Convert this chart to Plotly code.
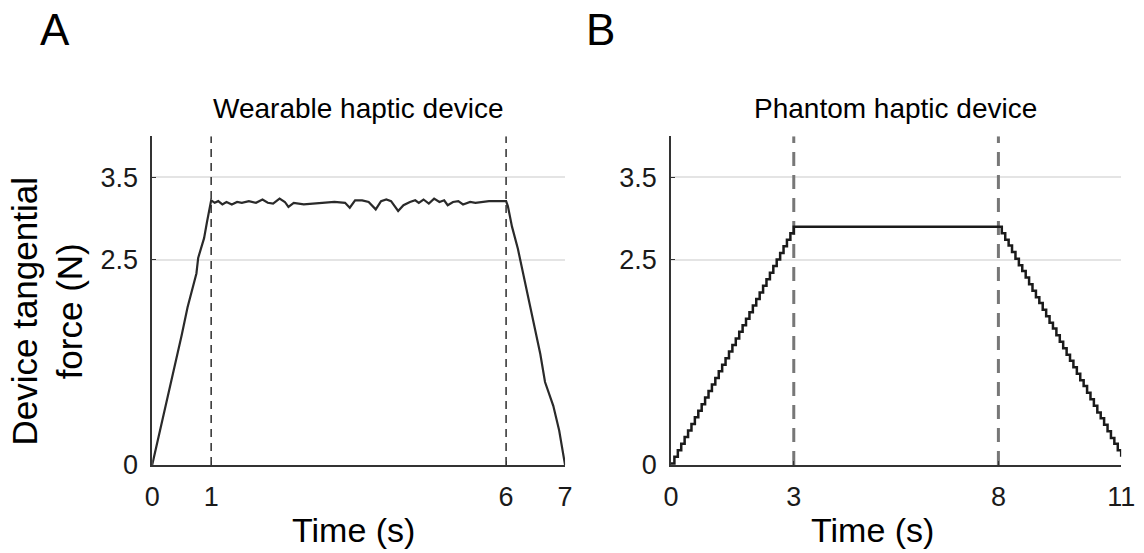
import plotly.graph_objects as go

# ---------------- data ----------------
# Panel A: wearable haptic device (time in s, force in N)
wear_up_t = [0.0, 0.1, 0.2, 0.3, 0.4, 0.5, 0.6, 0.65, 0.75, 0.78, 0.83, 0.88, 0.93, 0.97, 1.0]
wear_up_f = [0.0, 0.31, 0.63, 0.95, 1.27, 1.58, 1.92, 2.05, 2.33, 2.52, 2.64, 2.76, 2.96, 3.12, 3.22]

wear_plat_t = [1.06, 1.12, 1.19, 1.26, 1.35, 1.44, 1.52, 1.64, 1.76, 1.87, 1.96, 2.05, 2.16, 2.25,
               2.31, 2.40, 2.57, 2.74, 2.92, 3.09, 3.27, 3.35, 3.44, 3.56, 3.67, 3.79, 3.88, 3.97,
               4.05, 4.17, 4.26, 4.37, 4.46, 4.52, 4.60, 4.69, 4.78, 4.87, 4.95, 5.01, 5.10, 5.19,
               5.27, 5.39, 5.48, 5.59, 5.71, 5.83, 5.94, 6.0]
wear_plat_f = [3.19, 3.21, 3.17, 3.20, 3.17, 3.20, 3.19, 3.21, 3.19, 3.23, 3.19, 3.18, 3.24, 3.20,
               3.14, 3.19, 3.17, 3.18, 3.19, 3.20, 3.19, 3.13, 3.22, 3.22, 3.20, 3.11, 3.21, 3.23,
               3.21, 3.09, 3.16, 3.20, 3.22, 3.19, 3.23, 3.18, 3.24, 3.20, 3.22, 3.16, 3.20, 3.21,
               3.17, 3.20, 3.19, 3.20, 3.21, 3.21, 3.21, 3.21]

wear_down_t = [6.03, 6.1, 6.2, 6.33, 6.47, 6.58, 6.66, 6.8, 6.9, 6.96, 7.0]
wear_down_f = [3.15, 2.9, 2.63, 2.19, 1.74, 1.35, 1.01, 0.72, 0.42, 0.16, 0.0]

wear_events = [1, 6]
wear_xticks = [0, 1, 6, 7]

# Panel B: Phantom haptic device (stair-stepped ramps)
ph_up_t = [0.0, 0.083, 0.167, 0.25, 0.333, 0.417, 0.5, 0.583, 0.667, 0.75, 0.833, 0.917, 1.0,
           1.083, 1.167, 1.25, 1.333, 1.417, 1.5, 1.583, 1.667, 1.75, 1.833, 1.917, 2.0,
           2.083, 2.167, 2.25, 2.333, 2.417, 2.5, 2.583, 2.667, 2.75, 2.833, 2.917, 3.0]
ph_up_f = [0.02, 0.10, 0.18, 0.26, 0.34, 0.42, 0.50, 0.58, 0.66, 0.74, 0.82, 0.90, 0.98,
           1.06, 1.14, 1.22, 1.30, 1.38, 1.46, 1.54, 1.62, 1.70, 1.78, 1.86, 1.94,
           2.02, 2.10, 2.18, 2.26, 2.34, 2.42, 2.50, 2.58, 2.66, 2.74, 2.82, 2.90]
ph_plat_t = [8.0]
ph_plat_f = [2.90]
ph_down_t = [8.083, 8.167, 8.25, 8.333, 8.417, 8.5, 8.583, 8.667, 8.75, 8.833, 8.917, 9.0,
             9.083, 9.167, 9.25, 9.333, 9.417, 9.5, 9.583, 9.667, 9.75, 9.833, 9.917, 10.0,
             10.083, 10.167, 10.25, 10.333, 10.417, 10.5, 10.583, 10.667, 10.75, 10.833,
             10.917, 11.0]
ph_down_f = [2.82, 2.74, 2.67, 2.59, 2.51, 2.43, 2.36, 2.28, 2.20, 2.12, 2.04, 1.97,
             1.89, 1.81, 1.73, 1.66, 1.58, 1.50, 1.42, 1.34, 1.27, 1.19, 1.11, 1.03,
             0.96, 0.88, 0.80, 0.72, 0.64, 0.57, 0.49, 0.41, 0.33, 0.26, 0.18, 0.10]

ph_events = [3, 8]
ph_xticks = [0, 3, 8, 11]

y_ticks = [0, 2.5, 3.5]
y_ticktext = ["0", "2.5", "3.5"]
y_range = [0, 4]

# ---------------- figure ----------------
W, H = 1144, 553
FONT = "Liberation Sans, Arial, sans-serif"
INK = "#1a1a1a"

fig = go.Figure()

for xv in wear_events:
    fig.add_trace(go.Scatter(x=[xv, xv], y=y_range, mode="lines", xaxis="x", yaxis="y",
                             line=dict(color="#3a3a3a", width=1.6, dash="8px,6px"),
                             hoverinfo="skip", showlegend=False))
for xv in ph_events:
    fig.add_trace(go.Scatter(x=[xv, xv], y=y_range, mode="lines", xaxis="x2", yaxis="y2",
                             line=dict(color="#777777", width=3, dash="14px,9px"),
                             hoverinfo="skip", showlegend=False))

fig.add_trace(go.Scatter(x=wear_up_t + wear_plat_t + wear_down_t,
                         y=wear_up_f + wear_plat_f + wear_down_f,
                         mode="lines", xaxis="x", yaxis="y",
                         line=dict(color="#2a2a2a", width=2.2),
                         showlegend=False))

fig.add_trace(go.Scatter(x=ph_up_t + ph_plat_t + ph_down_t,
                         y=ph_up_f + ph_plat_f + ph_down_f,
                         mode="lines", xaxis="x2", yaxis="y2",
                         line=dict(color="#1a1a1a", width=2.5, shape="hv"),
                         showlegend=False))

xdom1 = [147 / W, 568 / W]
xdom2 = [676 / W, 1135 / W]
ydom = [1 - 478 / H, 1 - 140 / H]

common_x = dict(showgrid=False, zeroline=False, showline=True, linecolor="#333333", linewidth=1.6,
                ticks="inside", ticklen=4, tickcolor="#333333",
                tickfont=dict(family=FONT, size=27, color=INK), ticklabelstandoff=7)
common_y = dict(range=y_range, domain=ydom, tickvals=y_ticks, ticktext=y_ticktext,
                showgrid=True, gridcolor="#e4e4e4", gridwidth=1.5, zeroline=False,
                showline=True, linecolor="#333333", linewidth=1.6,
                ticks="inside", ticklen=4, tickcolor="#333333",
                tickfont=dict(family=FONT, size=27, color=INK), ticklabelstandoff=7)

fig.update_layout(
    width=W, height=H, autosize=False, margin=dict(l=0, r=0, t=0, b=0, pad=0),
    paper_bgcolor="white", plot_bgcolor="white",
    xaxis=dict(domain=xdom1, range=[0, 7], tickvals=wear_xticks, anchor="y", **common_x),
    yaxis=dict(anchor="x", **common_y),
    xaxis2=dict(domain=xdom2, range=[0, 11], tickvals=ph_xticks, anchor="y2", **common_x),
    yaxis2=dict(anchor="x2", **common_y),
)

ann = []
def px(x, y):
    return x / W, 1 - y / H

for text, (x, y), size in [("A", (48, 30), 44), ("B", (604, 30), 44),
                           ("Wearable haptic device", (357, 112), 28),
                           ("Phantom haptic device", (905, 112), 28),
                           ("Time (s)", (352, 545), 34),
                           ("Time (s)", (881, 545), 34)]:
    ax, ay = px(x, y)
    ann.append(dict(text=text, x=ax, y=ay, xref="paper", yref="paper", showarrow=False,
                    xanchor="center", yanchor="middle",
                    font=dict(family=FONT, size=size, color="black")))

ax, ay = px(40, 320)
ann.append(dict(text="Device tangential<br>force (N)", x=ax, y=ay, xref="paper", yref="paper",
                showarrow=False, textangle=-90, xanchor="center", yanchor="middle",
                font=dict(family=FONT, size=35, color="black")))

fig.update_layout(annotations=ann)

fig.write_html("out.html", config={"responsive": False},
               default_width="1144px", default_height="553px",
               post_script="document.body.style.margin='0';document.body.style.overflow='hidden';")
